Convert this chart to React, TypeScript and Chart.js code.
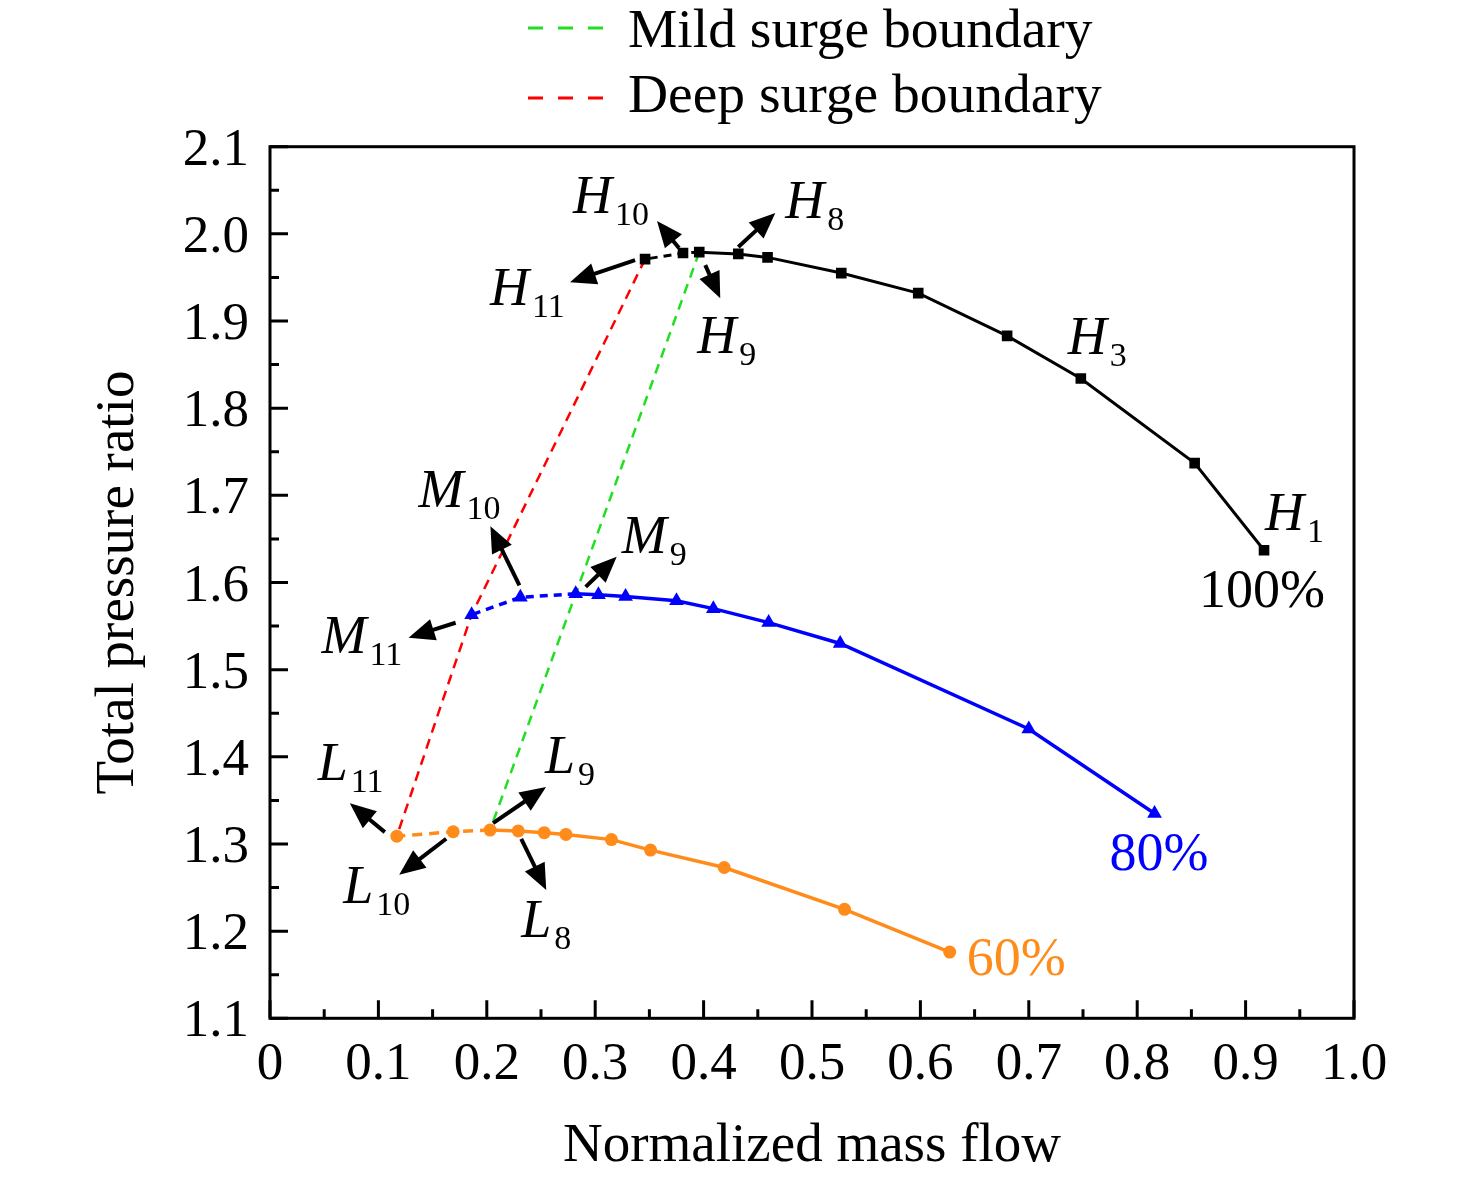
import React, { useEffect, useRef } from "react";
import { Chart, registerables } from "chart.js";

Chart.register(...registerables);

// 100% speed line (H1 ... H11)
const hFlow = [0.917, 0.853, 0.748, 0.68, 0.598, 0.527, 0.459, 0.432, 0.396, 0.381, 0.346];
const hRatio = [1.637, 1.737, 1.834, 1.883, 1.932, 1.955, 1.973, 1.977, 1.979, 1.978, 1.971];

// 80% speed line (M1 ... M11)
const mFlow = [0.816, 0.7, 0.526, 0.46, 0.409, 0.375, 0.328, 0.303, 0.282, 0.231, 0.186];
const mRatio = [1.335, 1.432, 1.53, 1.554, 1.57, 1.579, 1.584, 1.586, 1.587, 1.583, 1.563];

// 60% speed line (L1 ... L11)
const lFlow = [0.627, 0.53, 0.419, 0.351, 0.315, 0.273, 0.253, 0.229, 0.203, 0.169, 0.117];
const lRatio = [1.176, 1.225, 1.273, 1.293, 1.305, 1.311, 1.313, 1.315, 1.316, 1.314, 1.309];

const mildIndex = 8; // point 9 on each line
const deepIndex = 10; // point 11 on each line

const xTicks = [0, 0.1, 0.2, 0.3, 0.4, 0.5, 0.6, 0.7, 0.8, 0.9, 1.0];
const yTicks = [1.1, 1.2, 1.3, 1.4, 1.5, 1.6, 1.7, 1.8, 1.9, 2.0, 2.1];

const BLACK = "#000000";
const BLUE = "#0000ff";
const ORANGE = "#ff8c1a";
const GREEN = "#1ee01e";
const RED = "#ff0000";
const FONT = "'Liberation Serif', 'Times New Roman', serif";

const toPoints = (xs: number[], ys: number[]) => xs.map((x, i) => ({ x, y: ys[i] }));

const series: Record<string, { x: number; y: number }[]> = {
  H: toPoints(hFlow, hRatio),
  M: toPoints(mFlow, mRatio),
  L: toPoints(lFlow, lRatio),
};

// point labels: offsets in px from the data point
const pointLabels = [
  { s: "H", i: 10, sub: "11", at: [-155, 46], arrow: [-10, 1, -75, 23] },
  { s: "H", i: 9, sub: "10", at: [-110, -40], arrow: [-4, -5, -26, -32] },
  { s: "H", i: 8, sub: "9", at: [-2, 101], arrow: [6, 13, 21, 46] },
  { s: "H", i: 7, sub: "8", at: [47, -36], arrow: [0, -7, 37, -41] },
  { s: "H", i: 2, sub: "3", at: [-13, -25] },
  { s: "H", i: 0, sub: "1", at: [1, -20] },
  { s: "M", i: 10, sub: "11", at: [-150, 38], arrow: [-16, 8, -63, 23] },
  { s: "M", i: 9, sub: "10", at: [-102, -90], arrow: [-1, -12, -30, -71] },
  { s: "M", i: 8, sub: "9", at: [46, -41], arrow: [10, -7, 41, -37] },
  { s: "L", i: 10, sub: "11", at: [-79, -56], arrow: [-12, -4, -47, -33] },
  { s: "L", i: 9, sub: "10", at: [-110, 71], arrow: [-7, 7, -54, 43] },
  { s: "L", i: 8, sub: "9", at: [55, -57], arrow: [3, -7, 56, -43] },
  { s: "L", i: 7, sub: "8", at: [3, 106], arrow: [3, 8, 28, 59] },
];

const speedLabels = [
  { s: "H", text: "100%", color: BLACK, at: [-65, 57] },
  { s: "M", text: "80%", color: BLUE, at: [-45, 57] },
  { s: "L", text: "60%", color: ORANGE, at: [17, 23] },
];

const legendItems = [
  { text: "Mild surge boundary", color: GREEN, y: 28, base: 47 },
  { text: "Deep surge boundary", color: RED, y: 98, base: 112 },
];

function drawArrow(ctx: CanvasRenderingContext2D, x1: number, y1: number, x2: number, y2: number) {
  const len = Math.hypot(x2 - x1, y2 - y1);
  const ux = (x2 - x1) / len;
  const uy = (y2 - y1) / len;
  const head = 26;
  const half = 11;
  const bx = x2 - ux * head;
  const by = y2 - uy * head;
  ctx.beginPath();
  ctx.moveTo(x1, y1);
  ctx.lineTo(bx + ux * 2, by + uy * 2);
  ctx.lineWidth = 4;
  ctx.stroke();
  ctx.beginPath();
  ctx.moveTo(x2, y2);
  ctx.lineTo(bx - uy * half, by + ux * half);
  ctx.lineTo(bx + uy * half, by - ux * half);
  ctx.closePath();
  ctx.fill();
}

const overlayPlugin = {
  id: "overlay",
  afterDraw(chart: any) {
    const { ctx, chartArea: a } = chart;
    const xs = chart.scales.x;
    const ys = chart.scales.y;
    ctx.save();
    ctx.strokeStyle = BLACK;
    ctx.fillStyle = BLACK;
    ctx.setLineDash([]);

    // frame
    ctx.lineWidth = 3;
    ctx.strokeRect(a.left, a.top, a.right - a.left, a.bottom - a.top);

    // inward ticks
    ctx.lineWidth = 3;
    ctx.beginPath();
    xTicks.forEach((v, k) => {
      const px = xs.getPixelForValue(v);
      ctx.moveTo(px, a.bottom);
      ctx.lineTo(px, a.bottom - 18);
      if (k < xTicks.length - 1) {
        const mx = xs.getPixelForValue((v + xTicks[k + 1]) / 2);
        ctx.moveTo(mx, a.bottom);
        ctx.lineTo(mx, a.bottom - 9);
      }
    });
    yTicks.forEach((v, k) => {
      const py = ys.getPixelForValue(v);
      ctx.moveTo(a.left, py);
      ctx.lineTo(a.left + 18, py);
      if (k < yTicks.length - 1) {
        const my = ys.getPixelForValue((v + yTicks[k + 1]) / 2);
        ctx.moveTo(a.left, my);
        ctx.lineTo(a.left + 9, my);
      }
    });
    ctx.stroke();

    // tick labels
    ctx.font = `53px ${FONT}`;
    ctx.textBaseline = "alphabetic";
    ctx.textAlign = "center";
    xTicks.forEach((v) => {
      ctx.fillText(v === 0 ? "0" : v.toFixed(1), xs.getPixelForValue(v), a.bottom + 61);
    });
    ctx.textAlign = "right";
    yTicks.forEach((v) => {
      ctx.fillText(v.toFixed(1), a.left - 21, ys.getPixelForValue(v) + 18);
    });

    // axis titles
    ctx.font = `55px ${FONT}`;
    ctx.textAlign = "center";
    ctx.fillText("Normalized mass flow", (a.left + a.right) / 2, a.bottom + 143);
    ctx.save();
    ctx.translate(a.left - 137, (a.top + a.bottom) / 2);
    ctx.rotate(-Math.PI / 2);
    ctx.fillText("Total pressure ratio", 0, 0);
    ctx.restore();

    // legend
    ctx.textAlign = "left";
    legendItems.forEach((item) => {
      ctx.save();
      ctx.strokeStyle = item.color;
      ctx.lineWidth = 3;
      ctx.setLineDash([15, 15]);
      ctx.beginPath();
      ctx.moveTo(528, item.y);
      ctx.lineTo(603, item.y);
      ctx.stroke();
      ctx.restore();
      ctx.font = `55.5px ${FONT}`;
      ctx.fillText(item.text, 628, item.base);
    });

    // point labels and arrows
    pointLabels.forEach((lab) => {
      const p = series[lab.s][lab.i];
      const px = xs.getPixelForValue(p.x);
      const py = ys.getPixelForValue(p.y);
      if (lab.arrow) {
        const [sx, sy, tx, ty] = lab.arrow;
        drawArrow(ctx, px + sx, py + sy, px + tx, py + ty);
      }
      const lx = px + lab.at[0];
      const ly = py + lab.at[1];
      ctx.font = `italic 54px ${FONT}`;
      ctx.fillText(lab.s, lx, ly);
      const w = ctx.measureText(lab.s).width;
      ctx.font = `34px ${FONT}`;
      ctx.fillText(lab.sub, lx + w + 3, ly + 12);
    });

    // speed labels
    speedLabels.forEach((lab) => {
      const p = series[lab.s][0];
      ctx.font = `54px ${FONT}`;
      ctx.fillStyle = lab.color;
      ctx.fillText(
        lab.text,
        xs.getPixelForValue(p.x) + lab.at[0],
        ys.getPixelForValue(p.y) + lab.at[1]
      );
    });

    ctx.restore();
  },
};

const speedLine = (key: string, color: string, style: string, radius: number, width: number, dash: number[]) => ({
  data: series[key],
  showLine: true,
  borderColor: color,
  backgroundColor: color,
  borderWidth: width,
  pointStyle: style,
  pointRadius: radius,
  pointBorderWidth: 0,
  tension: 0,
  segment: {
    borderDash: (c: any) => (c.p0DataIndex >= mildIndex ? dash : undefined),
  },
  order: 1,
});

const boundary = (idx: number, color: string) => ({
  data: [series.H[idx], series.M[idx], series.L[idx]],
  showLine: true,
  borderColor: color,
  borderWidth: 2.5,
  borderDash: [10, 7],
  pointRadius: 0,
  tension: 0,
  order: 2,
});

const App: React.FC = () => {
  const canvasRef = useRef<HTMLCanvasElement>(null);
  const chartRef = useRef<Chart>();

  useEffect(() => {
    if (!canvasRef.current) return;
    const ctx = canvasRef.current.getContext("2d");
    if (!ctx) return;
    if (chartRef.current) chartRef.current.destroy();
    chartRef.current = new Chart(ctx, {
      type: "scatter",
      data: {
        datasets: [
          boundary(mildIndex, GREEN),
          boundary(deepIndex, RED),
          speedLine("H", BLACK, "rect", 7.5, 3, [8, 6]),
          speedLine("M", BLUE, "triangle", 8.5, 3.5, [8, 6]),
          speedLine("L", ORANGE, "circle", 6.5, 3.5, [10, 7]),
        ] as any,
      },
      options: {
        animation: false,
        responsive: true,
        maintainAspectRatio: false,
        layout: { padding: { left: 270, right: 122, top: 146.7, bottom: 161.7 } },
        plugins: { legend: { display: false }, tooltip: { enabled: false } },
        scales: {
          x: { type: "linear", min: 0, max: 1, display: false },
          y: { type: "linear", min: 1.1, max: 2.1, display: false },
        },
      },
      plugins: [overlayPlugin],
    });
    return () => {
      if (chartRef.current) {
        chartRef.current.destroy();
        chartRef.current = undefined;
      }
    };
  }, []);

  return (
    <div style={{ position: "absolute", left: 0, top: 0, width: 1476, height: 1180, background: "#fff" }}>
      <canvas ref={canvasRef} style={{ width: "100%", height: "100%" }} />
    </div>
  );
};

export default App;
